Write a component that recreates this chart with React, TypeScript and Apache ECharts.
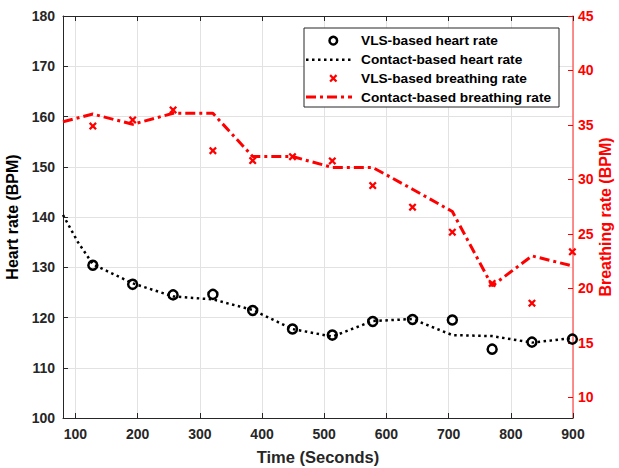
import React, { useEffect, useRef } from "react";
import * as echarts from "echarts";

// Measurement times (seconds)
const times = [128, 192, 257, 321, 385, 449, 513, 578, 642, 706, 770, 834, 899];

// Heart rate (BPM)
const vlsHeart = [130.4, 126.6, 124.5, 124.6, 121.4, 117.7, 116.5, 119.2, 119.6, 119.5, 113.7, 115.1, 115.7];
const contactHeartTimes = [80, 104, 128, 192, 257, 321, 385, 449, 513, 578, 642, 706, 770, 834, 899];
const contactHeart = [140.4, 135.0, 130.6, 126.8, 124.2, 123.6, 121.5, 117.7, 116.2, 119.3, 119.7, 116.5, 116.3, 115.0, 115.9];

// Breathing rate (BPM)
const vlsBreath = [34.9, 35.46, 36.38, 32.64, 31.73, 32.09, 31.7, 29.43, 27.45, 25.16, 20.45, 18.64, 23.35];
const contactBreathTimes = [80, 128, 192, 257, 321, 385, 449, 513, 578, 642, 706, 770, 834, 899];
const contactBreath = [35.3, 36.0, 35.06, 36.07, 36.07, 32.1, 32.1, 31.1, 31.1, 29.1, 27.05, 20.23, 22.98, 22.06];

// Tick values
const xTicks = [100, 200, 300, 400, 500, 600, 700, 800, 900];
const rightTicks = [10, 15, 20, 25, 30, 35, 40, 45];

const FONT = "'Liberation Sans', Arial, sans-serif";
const INK = "#262626";
const RED = "#ff0000";
const X_PATH =
  "path://M2,0 L5,3 L8,0 L10,2 L7,5 L10,8 L8,10 L5,7 L2,10 L0,8 L3,5 L0,2 Z";

export default function App() {
  const ref = useRef<HTMLDivElement>(null);

  useEffect(() => {
    if (!ref.current) return;
    const chart = echarts.init(ref.current, null, { renderer: "svg" });

    const pair = (xs: number[], ys: number[]) => xs.map((x, i) => [x, ys[i]]);

    const legendX = 304;
    const legendY = 28;
    const rowY = [40.7, 59.7, 78.3, 97];
    const textStyle = {
      fontFamily: FONT,
      fontWeight: "bold" as const,
      fontSize: 13.7,
      fill: "#000",
    };
    const labels = [
      "VLS-based heart rate",
      "Contact-based heart rate",
      "VLS-based breathing rate",
      "Contact-based breathing rate",
    ];

    chart.setOption({
      animation: false,
      grid: { left: 63, right: 46, top: 16, bottom: 50, containLabel: false, outerBoundsMode: "none" },
      xAxis: [
        {
          type: "value",
          min: 80,
          max: 900,
          position: "bottom",
          name: "Time (Seconds)",
          nameLocation: "middle",
          nameGap: 30,
          nameTextStyle: { fontFamily: FONT, fontWeight: "bold", fontSize: 16.5, color: INK },
          axisLine: { show: true, lineStyle: { color: INK, width: 1 } },
          axisTick: { inside: true, length: 5, customValues: xTicks, lineStyle: { color: INK } },
          axisLabel: {
            customValues: xTicks,
            color: INK,
            fontFamily: FONT,
            fontWeight: "bold",
            fontSize: 14,
            margin: 9,
          },
          splitLine: { show: true, lineStyle: { color: "#e2e2e2", width: 1 } },
        },
        {
          type: "value",
          min: 80,
          max: 900,
          position: "top",
          axisLine: { show: true, lineStyle: { color: INK, width: 1 } },
          axisTick: { inside: true, length: 5, customValues: xTicks, lineStyle: { color: INK } },
          axisLabel: { show: false },
          splitLine: { show: false },
        },
      ],
      yAxis: [
        {
          type: "value",
          min: 100,
          max: 180,
          interval: 10,
          position: "left",
          name: "Heart rate (BPM)",
          nameLocation: "middle",
          nameGap: 37,
          nameTextStyle: { fontFamily: FONT, fontWeight: "bold", fontSize: 16, color: "#000" },
          axisLine: { show: true, lineStyle: { color: INK, width: 1 } },
          axisTick: { show: true, inside: true, length: 5, lineStyle: { color: INK } },
          axisLabel: {
            color: INK,
            fontFamily: FONT,
            fontWeight: "bold",
            fontSize: 14,
            margin: 8,
          },
          splitLine: { show: true, lineStyle: { color: "#e2e2e2", width: 1 } },
        },
        {
          type: "value",
          min: 8.1,
          max: 45,
          position: "right",
          name: "Breathing rate (BPM)",
          nameLocation: "middle",
          nameRotate: 90,
          nameGap: 24,
          nameMoveOverlap: false,
          nameTextStyle: { fontFamily: FONT, fontWeight: "bold", fontSize: 16, color: RED },
          axisLine: { show: true, lineStyle: { color: "#ff6a6a", width: 1.5 } },
          axisTick: {
            show: true,
            inside: true,
            length: 5,
            customValues: rightTicks,
            lineStyle: { color: RED },
          },
          axisLabel: {
            customValues: rightTicks,
            color: RED,
            fontFamily: FONT,
            fontWeight: "bold",
            fontSize: 14,
            margin: 5,
          },
          splitLine: { show: false },
        },
      ],
      series: [
        {
          name: "Contact-based breathing rate",
          type: "line",
          yAxisIndex: 1,
          data: pair(contactBreathTimes, contactBreath),
          showSymbol: false,
          symbol: "none",
          lineStyle: { color: RED, width: 3, type: [10, 4, 3, 4] },
          z: 2,
        },
        {
          name: "VLS-based breathing rate",
          type: "scatter",
          yAxisIndex: 1,
          data: pair(times, vlsBreath),
          symbol: X_PATH,
          symbolSize: 8,
          itemStyle: { color: RED, opacity: 1 },
          z: 3,
        },
        {
          name: "Contact-based heart rate",
          type: "line",
          yAxisIndex: 0,
          data: pair(contactHeartTimes, contactHeart),
          showSymbol: false,
          symbol: "none",
          lineStyle: { color: "#000", width: 2.5, type: [2.5, 3.5] },
          z: 4,
        },
        {
          name: "VLS-based heart rate",
          type: "scatter",
          yAxisIndex: 0,
          data: pair(times, vlsHeart),
          symbol: "circle",
          symbolSize: 9,
          itemStyle: { color: "transparent", borderColor: "#000", borderWidth: 2.5, opacity: 1 },
          z: 5,
        },
      ],
      graphic: [
        {
          type: "rect",
          shape: { x: legendX, y: legendY, width: 255, height: 79 },
          style: { fill: "#fff", stroke: INK, lineWidth: 1 },
          z: 100,
        },
        {
          type: "circle",
          shape: { cx: 333.3, cy: rowY[0], r: 3.8 },
          style: { fill: "none", stroke: "#000", lineWidth: 2.5 },
          z: 101,
        },
        {
          type: "line",
          shape: { x1: 306, y1: rowY[1], x2: 352, y2: rowY[1] },
          style: { stroke: "#000", lineWidth: 2.5, lineDash: [2.5, 3.5] },
          z: 101,
        },
        {
          type: "polygon",
          shape: {
            points: [
              [2, 0], [5, 3], [8, 0], [10, 2], [7, 5], [10, 8],
              [8, 10], [5, 7], [2, 10], [0, 8], [3, 5], [0, 2],
            ].map(([px, py]) => [329.3 + px * 0.8, rowY[2] - 4 + py * 0.8]),
          },
          style: { fill: RED },
          z: 101,
        },
        {
          type: "line",
          shape: { x1: 306, y1: rowY[3], x2: 352, y2: rowY[3] },
          style: { stroke: RED, lineWidth: 3, lineDash: [10, 4, 3, 4] },
          z: 101,
        },
        ...labels.map((t, i) => ({
          type: "text",
          x: 361,
          y: rowY[i],
          style: { ...textStyle, text: t, verticalAlign: "middle", align: "left" },
          z: 101,
        })),
      ],
    });

    return () => chart.dispose();
  }, []);

  return (
    <div
      ref={ref}
      style={{ position: "absolute", left: 0, top: 0, width: 619, height: 468, background: "#fff" }}
    />
  );
}
